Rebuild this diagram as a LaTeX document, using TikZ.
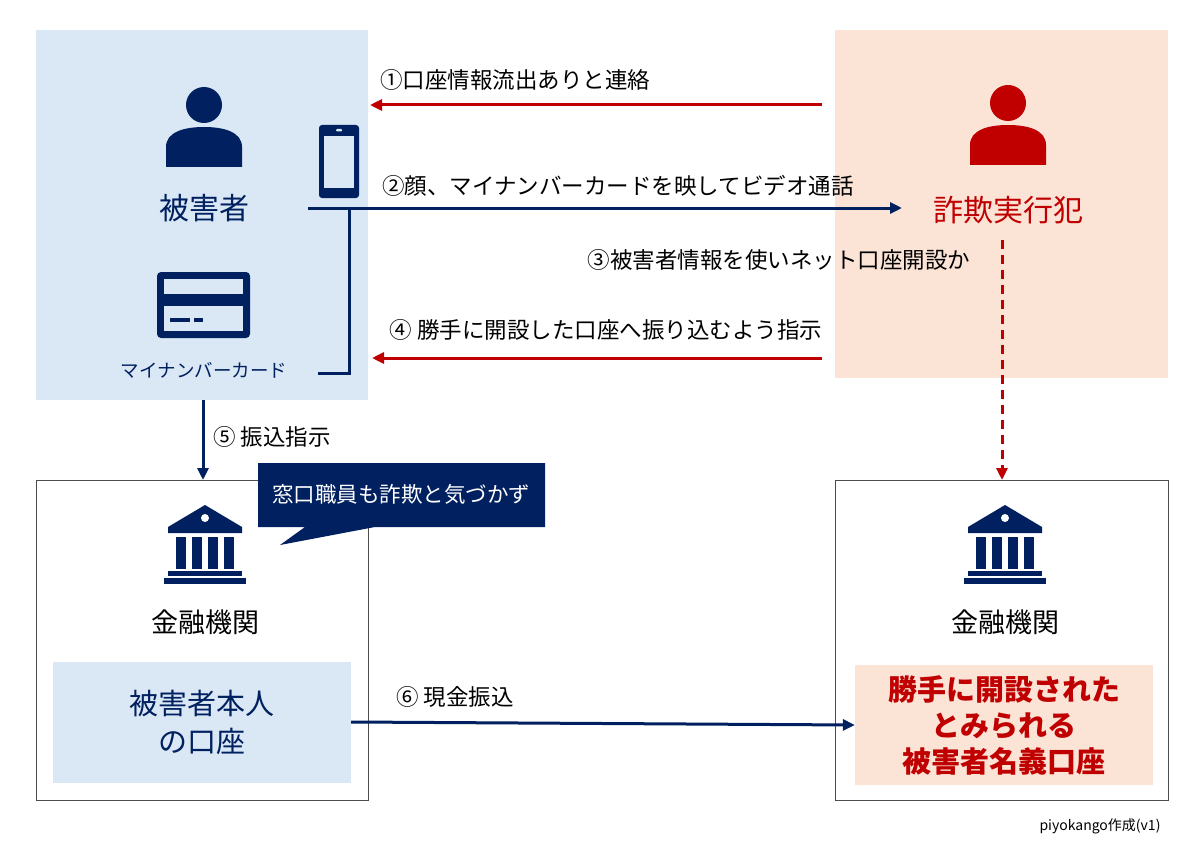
\documentclass[tikz,border=0pt]{standalone}
\usepackage{fontspec}
\setmainfont{Noto Sans CJK JP}
\usetikzlibrary{arrows.meta}
\definecolor{navy}{HTML}{002060}
\definecolor{rd}{HTML}{C00000}
\definecolor{lb}{HTML}{DAE8F5}
\definecolor{pc}{HTML}{FBE3D6}
\begin{document}
\begin{tikzpicture}[x=1pt,y=-1pt,
  fs/.style={font=\fontsize{#1}{#1}\selectfont},
  lbl/.style={font=\fontsize{22.5}{22.5}\selectfont,xscale=1,text=black,inner sep=0},
  arr/.style={line width=3pt,-{Triangle[length=12pt,width=11pt]}},
  box/.style={draw=black!70,line width=0.8pt,fill=white}]
\useasboundingbox (0,0) rectangle (1200,864);
\fill[white] (0,0) rectangle (1200,864);
\newcommand\person[3]{%
  \fill[#3] (#1,#2) circle (18);
  \fill[#3] (#1-38,#2+62) -- (#1-38,#2+42) .. controls (#1-38,#2+27) and (#1-20,#2+22) .. (#1,#2+22) .. controls (#1+20,#2+22) and (#1+38,#2+27) .. (#1+38,#2+42) -- (#1+38,#2+62) -- cycle;}
\newcommand\bank[2]{%
  \fill[navy] (#1-37,#2+22) -- (#1,#2) -- (#1+37,#2+22) -- (#1+37,#2+28) -- (#1-37,#2+28) -- cycle;
  \fill[white] (#1,#2+13) circle (4);
  \foreach \c in {-24,-8,8,24}{\fill[navy] (#1+\c-5,#2+32) rectangle (#1+\c+5,#2+64);}
  \fill[navy] (#1-37,#2+66) rectangle (#1+37,#2+71);
  \fill[navy] (#1-41,#2+73) rectangle (#1+41,#2+79);}
% regions
\fill[lb] (36,30) rectangle (368,400);
\fill[pc] (835,30) rectangle (1168,378);
\node[box,minimum width=332pt,minimum height=320pt,anchor=north west,inner sep=0] (lbox) at (36,480) {};
\node[box,minimum width=333pt,minimum height=320pt,anchor=north west,inner sep=0] (rbox) at (835,480) {};
% icons
\person{204}{105}{navy}
\person{1008}{103}{rd}
\fill[navy,rounded corners=4pt] (157,272) rectangle (250,338);
\fill[lb] (164,279) rectangle (243,294);
\fill[lb] (164,306) rectangle (243,331);
\fill[navy] (170,318) rectangle (190,322);
\fill[navy] (194,318) rectangle (203,322);
\fill[navy,rounded corners=3pt] (319,125) rectangle (359,198);
\fill[lb] (324,136) rectangle (354,188);
\fill[lb,rounded corners=1pt] (336,129) rectangle (342,131.5);
\bank{205}{505}
\bank{1005}{505}
% texts
\node[fs=30,text=navy] (victim) at (204,208) {被害者};
\node[fs=18.5,text=navy] (card) at (204,370) {マイナンバーカード};
\node[fs=30,text=rd] (fraud) at (1008,210) {詐欺実行犯};
\node[fs=27,text=black] (fi1) at (205,622) {金融機関};
\node[fs=27,text=black] (fi2) at (1005,622) {金融機関};
\node[fill=lb,minimum width=298pt,minimum height=121pt,inner sep=0,text=navy,align=center,font=\fontsize{29}{38}\selectfont] (acc1) at (202,722) {被害者本人\\の口座};
\node[fill=pc,minimum width=298pt,minimum height=120pt,inner sep=0,text=rd,align=center,font=\bfseries\fontsize{29}{36}\selectfont] (acc2) at (1004,725) {勝手に開設された\\とみられる\\被害者名義口座};
% callout
\fill[navy] (258,463) -- (545,463) -- (545,527) -- (375,527) -- (280,545) -- (305,527) -- (258,527) -- cycle;
\node[fs=21.5,text=white] (callout) at (401,494) {窓口職員も詐欺と気づかず};
% connectors
\coordinate (a1s) at (822,105); \coordinate (a1e) at (370,105);
\draw[arr,rd] (a1s) -- (a1e);
\node[lbl] at (515,80) {①口座情報流出ありと連絡};
\coordinate (a2s) at (308,208); \coordinate (a2e) at (902,208);
\draw[arr,navy] (a2s) -- (a2e);
\node[lbl] at (618,186) {②顔、マイナンバーカードを映してビデオ通話};
\draw[navy,line width=3pt] (349,208) -- (349,373) -- (318,373);
\node[lbl] at (779,260) {③被害者情報を使いネット口座開設か};
\coordinate (a3s) at (1002,240);
\draw[arr,rd,dash pattern=on 9pt off 6pt] (a3s) -- (rbox.north -| a3s);
\coordinate (a4s) at (822,358); \coordinate (a4e) at (372,358);
\draw[arr,rd] (a4s) -- (a4e);
\node[lbl] at (606,330) {④ 勝手に開設した口座へ振り込むよう指示};
\coordinate (a5s) at (203,400);
\draw[arr,navy] (a5s) -- (lbox.north -| a5s);
\node[lbl] at (272,437) {⑤ 振込指示};
\draw[arr,navy] (acc1.east) -- (acc2.west);
\node[lbl] at (455,697) {⑥ 現金振込};
\node[fs=14,text=black] at (1100,826) {piyokango作成(v1)};
\end{tikzpicture}
\end{document}
